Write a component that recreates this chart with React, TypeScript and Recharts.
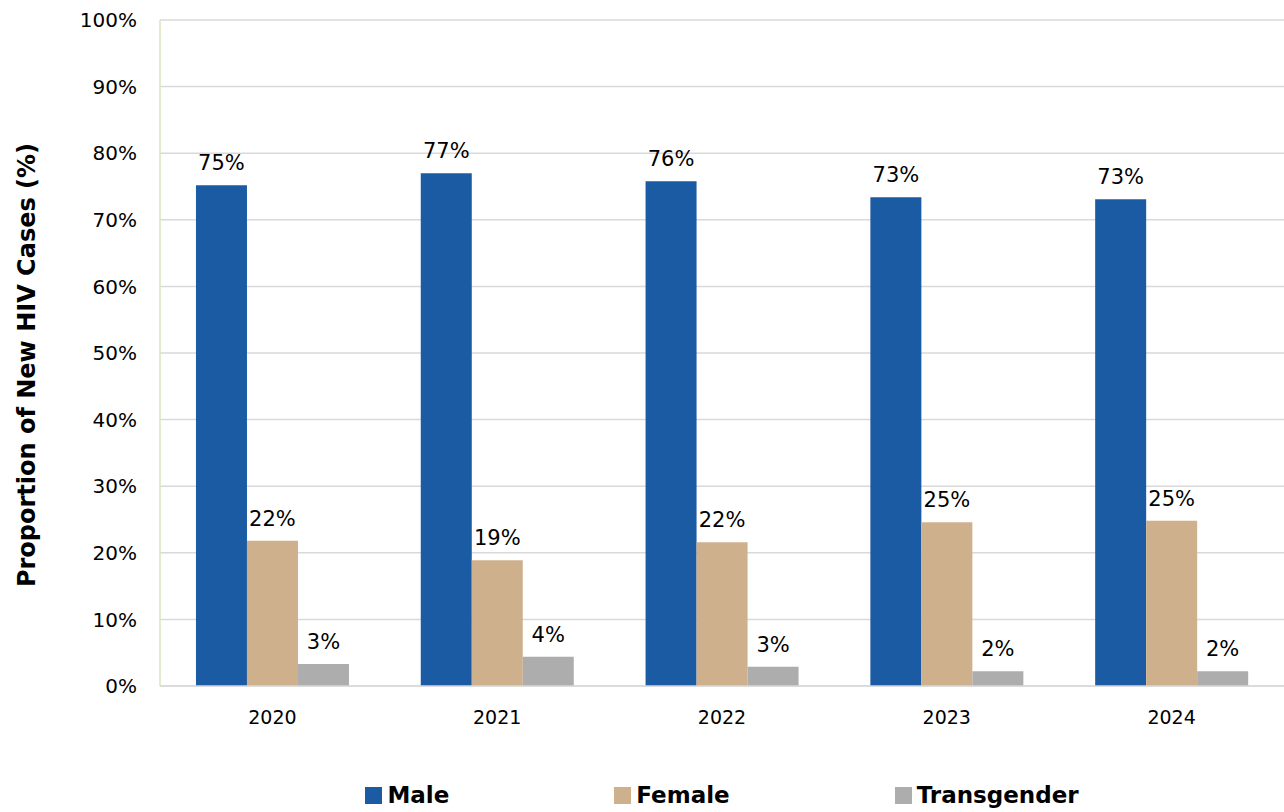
import {
  BarChart,
  Bar,
  XAxis,
  YAxis,
  CartesianGrid,
  Legend,
  LabelList,
} from "recharts";

const years = ["2020", "2021", "2022", "2023", "2024"];
const male = [75.2, 77.0, 75.8, 73.4, 73.1];
const female = [21.8, 18.9, 21.6, 24.6, 24.8];
const transgender = [3.3, 4.4, 2.9, 2.2, 2.2];
const yTicks = [0, 10, 20, 30, 40, 50, 60, 70, 80, 90, 100];

const series = [
  { key: "male", name: "Male", color: "#1B5BA3" },
  { key: "female", name: "Female", color: "#CFB08C" },
  { key: "transgender", name: "Transgender", color: "#ADADAD" },
];

const data = years.map((year, i) => ({
  year,
  male: male[i],
  female: female[i],
  transgender: transgender[i],
}));

const FONT = "'DejaVu Sans', Verdana, sans-serif";

const pct = (v: any) => `${Math.round(Number(v))}%`;

function YLabel(props: any) {
  const vb = props.viewBox;
  const x = vb.x + 27;
  const y = vb.y + vb.height / 2 + 12;
  return (
    <text
      x={x}
      y={y}
      transform={`rotate(-90, ${x}, ${y})`}
      textAnchor="middle"
      dominantBaseline="central"
      fontFamily={FONT}
      fontWeight="bold"
      fontSize={24}
      fill="#000"
    >
      Proportion of New HIV Cases (%)
    </text>
  );
}

function LegendBox() {
  return (
    <div
      style={{
        display: "flex",
        justifyContent: "center",
        gap: 165,
        paddingLeft: 160,
        height: 30,
        alignItems: "center",
        fontFamily: FONT,
        fontWeight: "bold",
        fontSize: 23,
        color: "#000",
      }}
    >
      {series.map((s) => (
        <div key={s.key} style={{ display: "flex", alignItems: "center" }}>
          <span
            style={{
              display: "inline-block",
              width: 17,
              height: 17,
              background: s.color,
              marginRight: 5,
            }}
          />
          {s.name}
        </div>
      ))}
    </div>
  );
}

export default function App() {
  return (
    <div style={{ position: "absolute", left: 0, top: 0, background: "#fff" }}>
      <BarChart
        width={1284}
        height={812}
        data={data}
        margin={{ top: 20, right: 0, bottom: 56, left: 0 }}
        barCategoryGap="16%"
        barGap={0}
      >
        <CartesianGrid vertical={false} stroke="#D9D9D9" strokeWidth={1.5} />
        <XAxis
          dataKey="year"
          height={40}
          tickLine={false}
          axisLine={{ stroke: "#D9D9D9", strokeWidth: 1.5 }}
          tickMargin={19}
          tick={{ fill: "#000", fontSize: 19, fontFamily: FONT }}
        />
        <YAxis
          width={160}
          domain={[0, 100]}
          ticks={yTicks}
          interval={0}
          tickFormatter={(v) => `${v}%`}
          tickLine={false}
          tickMargin={17}
          axisLine={{ stroke: "#D7E4BD", strokeWidth: 1.5 }}
          tick={{ fill: "#000", fontSize: 20, fontFamily: FONT }}
          label={<YLabel />}
        />
        <Legend
          verticalAlign="bottom"
          wrapperStyle={{ bottom: 2 }}
          content={() => <LegendBox />}
        />
        {series.map((s) => (
          <Bar
            key={s.key}
            dataKey={s.key}
            name={s.name}
            fill={s.color}
            isAnimationActive={false}
          >
            <LabelList
              dataKey={s.key}
              position="top"
              offset={15}
              formatter={pct}
              style={{ fill: "#000", fontSize: 21, fontFamily: FONT }}
            />
          </Bar>
        ))}
      </BarChart>
    </div>
  );
}
